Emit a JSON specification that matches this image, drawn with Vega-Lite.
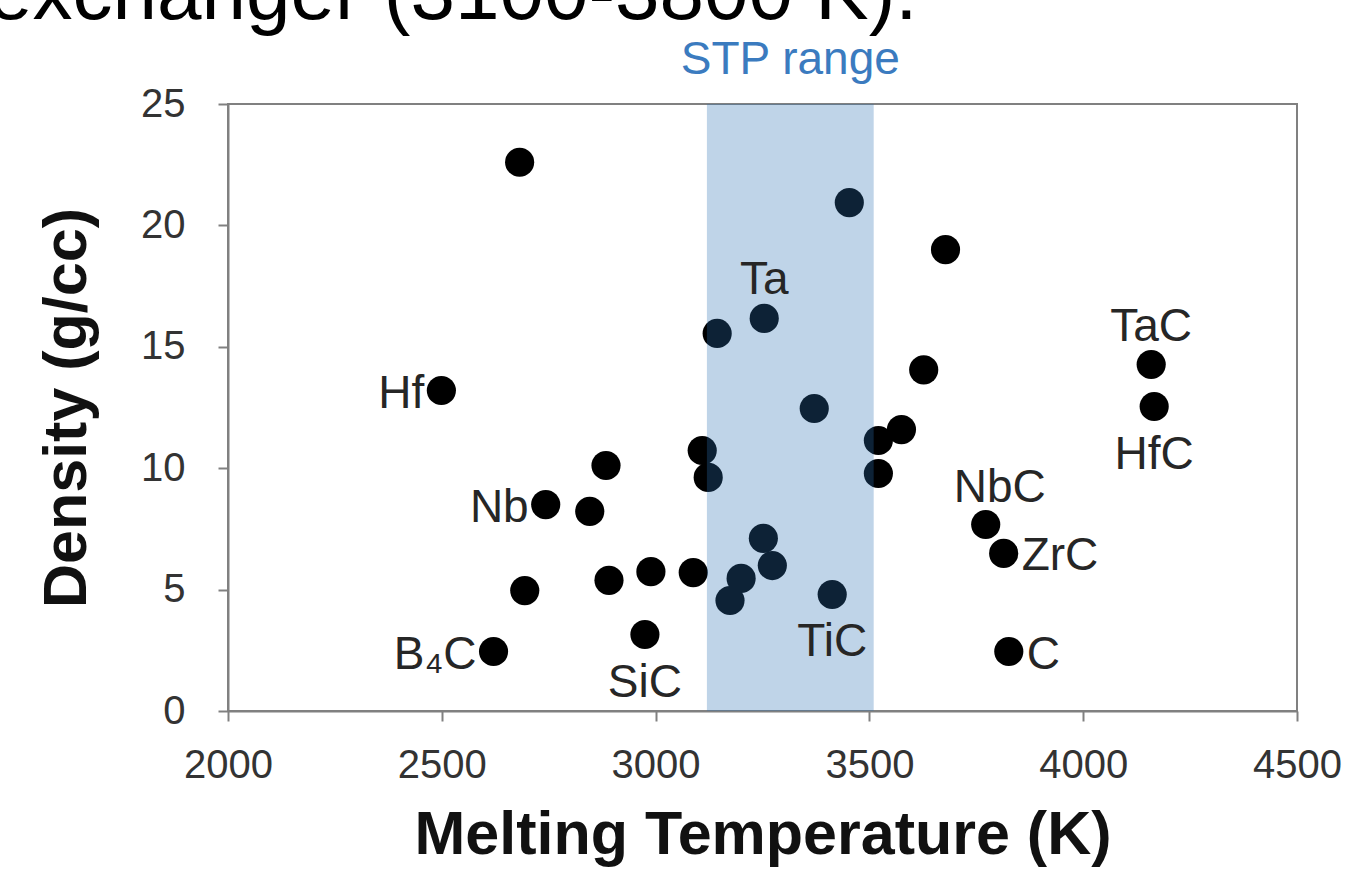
{
  "$schema": "https://vega.github.io/schema/vega-lite/v6.json",
  "width": 1069,
  "height": 607,
  "autosize": {"type": "none"},
  "padding": {"left": 228, "top": 104, "right": 56, "bottom": 162},
  "background": "white",
  "title": {
    "text": "exchanger (3100-3800 K).",
    "anchor": "start",
    "frame": "group",
    "dx": -240,
    "offset": -62,
    "baseline": "alphabetic",
    "font": "Liberation Sans",
    "fontSize": 80,
    "fontWeight": "normal",
    "color": "#000000"
  },
  "config": {
    "font": "Liberation Sans",
    "view": {"stroke": "#808080", "strokeWidth": 2},
    "axis": {
      "grid": false,
      "domainColor": "#808080",
      "domainWidth": 2,
      "tickColor": "#808080",
      "tickWidth": 2,
      "tickSize": 10,
      "labelFont": "Liberation Sans",
      "labelFontSize": 40,
      "labelColor": "#333333",
      "titleFont": "Liberation Sans",
      "titleFontSize": 61,
      "titleFontWeight": "bold",
      "titleColor": "#111111"
    }
  },
  "datasets": {
    "pts": [
      {"T": 2682, "D": 22.6, "label": ""},
      {"T": 2499, "D": 13.2, "label": "Hf"},
      {"T": 2743, "D": 8.5, "label": "Nb"},
      {"T": 2846, "D": 8.22, "label": ""},
      {"T": 2884, "D": 10.11, "label": ""},
      {"T": 2621, "D": 2.45, "label": "B₄C"},
      {"T": 2694, "D": 4.96, "label": ""},
      {"T": 2891, "D": 5.38, "label": ""},
      {"T": 2989, "D": 5.74, "label": ""},
      {"T": 2975, "D": 3.15, "label": "SiC"},
      {"T": 3088, "D": 5.7, "label": ""},
      {"T": 3109, "D": 10.73, "label": ""},
      {"T": 3123, "D": 9.62, "label": ""},
      {"T": 3144, "D": 15.55, "label": ""},
      {"T": 3254, "D": 16.17, "label": "Ta"},
      {"T": 3174, "D": 4.55, "label": ""},
      {"T": 3200, "D": 5.46, "label": ""},
      {"T": 3252, "D": 7.11, "label": ""},
      {"T": 3273, "D": 5.99, "label": ""},
      {"T": 3371, "D": 12.46, "label": ""},
      {"T": 3453, "D": 20.94, "label": ""},
      {"T": 3413, "D": 4.8, "label": "TiC"},
      {"T": 3521, "D": 11.14, "label": ""},
      {"T": 3575, "D": 11.59, "label": ""},
      {"T": 3521, "D": 9.78, "label": ""},
      {"T": 3627, "D": 14.05, "label": ""},
      {"T": 3678, "D": 19.0, "label": ""},
      {"T": 3772, "D": 7.68, "label": "NbC"},
      {"T": 3814, "D": 6.49, "label": "ZrC"},
      {"T": 3826, "D": 2.45, "label": "C"},
      {"T": 4159, "D": 14.27, "label": "TaC"},
      {"T": 4166, "D": 12.54, "label": "HfC"}
    ],
    "band": [
      {"start": 3120, "end": 3510, "mid": 3315, "top": 25, "bottom": 0, "name": "STP range"}
    ]
  },
  "encoding": {
    "x": {
      "field": "T",
      "type": "quantitative",
      "scale": {"domain": [2000, 4500], "nice": false, "zero": false},
      "axis": {
        "title": "Melting Temperature (K)",
        "values": [2000, 2500, 3000, 3500, 4000, 4500],
        "format": "d",
        "labelPadding": 24,
        "titlePadding": 20,
        "labelFlush": false
      }
    },
    "y": {
      "field": "D",
      "type": "quantitative",
      "scale": {"domain": [0, 25], "nice": false},
      "axis": {
        "title": "Density (g/cc)",
        "values": [0, 5, 10, 15, 20, 25],
        "format": "d",
        "labelPadding": 33,
        "titlePadding": 42,
        "labelFlush": false
      }
    }
  },
  "layer": [
    {
      "data": {"name": "pts"},
      "mark": {"type": "point", "shape": "circle", "filled": true, "size": 850, "color": "#000000", "opacity": 1}
    },
    {
      "data": {"name": "band"},
      "mark": {"type": "rect", "color": "#2b71b4", "opacity": 0.3},
      "encoding": {
        "x": {"field": "start", "type": "quantitative"},
        "x2": {"field": "end"},
        "y": {"field": "bottom", "type": "quantitative"},
        "y2": {"field": "top"}
      }
    },
    {
      "data": {"name": "band"},
      "mark": {"type": "text", "color": "#3b7bbf", "fontSize": 46, "align": "center", "baseline": "alphabetic", "dy": -30},
      "encoding": {
        "x": {"field": "mid", "type": "quantitative"},
        "y": {"field": "top", "type": "quantitative"},
        "text": {"field": "name"}
      }
    },
    {
      "data": {"name": "pts"},
      "transform": [{"filter": {"field": "label", "oneOf": ["Hf", "Nb", "B₄C"]}}],
      "mark": {"type": "text", "fontSize": 46, "color": "#262626", "align": "right", "baseline": "middle", "dx": -17, "dy": 3},
      "encoding": {"text": {"field": "label"}}
    },
    {
      "data": {"name": "pts"},
      "transform": [{"filter": {"field": "label", "oneOf": ["ZrC", "C"]}}],
      "mark": {"type": "text", "fontSize": 46, "color": "#262626", "align": "left", "baseline": "middle", "dx": 18, "dy": 3},
      "encoding": {"text": {"field": "label"}}
    },
    {
      "data": {"name": "pts"},
      "transform": [{"filter": {"field": "label", "oneOf": ["Ta", "TaC"]}}],
      "mark": {"type": "text", "fontSize": 46, "color": "#262626", "align": "center", "baseline": "alphabetic", "dy": -24},
      "encoding": {"text": {"field": "label"}}
    },
    {
      "data": {"name": "pts"},
      "transform": [{"filter": {"field": "label", "oneOf": ["NbC"]}}],
      "mark": {"type": "text", "fontSize": 46, "color": "#262626", "align": "center", "baseline": "alphabetic", "dx": 14, "dy": -23},
      "encoding": {"text": {"field": "label"}}
    },
    {
      "data": {"name": "pts"},
      "transform": [{"filter": {"field": "label", "oneOf": ["SiC", "TiC", "HfC"]}}],
      "mark": {"type": "text", "fontSize": 46, "color": "#262626", "align": "center", "baseline": "top", "dy": 26},
      "encoding": {"text": {"field": "label"}}
    }
  ]
}
